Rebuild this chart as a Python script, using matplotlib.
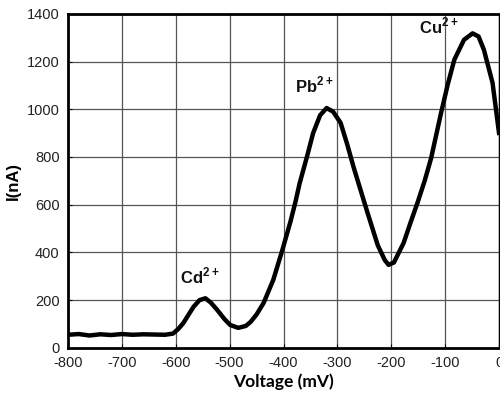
import matplotlib
matplotlib.use("Agg")
import matplotlib.pyplot as plt

plt.rcParams['font.family'] = ['Liberation Sans', 'DejaVu Sans']
plt.rcParams['mathtext.fontset'] = 'custom'
plt.rcParams['mathtext.rm'] = 'Liberation Sans'
plt.rcParams['mathtext.bf'] = 'Liberation Sans:bold'
plt.rcParams['axes.unicode_minus'] = False

# stripping voltammogram
voltage = [-800, -780, -760, -740, -720, -700, -680, -660, -640, -620, -605,
           -595, -586, -576, -567, -556, -545, -535, -523, -510, -499, -484,
           -470, -461, -450, -437, -419, -402, -387, -378, -370, -356, -345,
           -332, -320, -308, -294, -282, -270, -257, -244, -225, -212, -205,
           -195, -177, -165, -151, -138, -126, -108, -95, -83, -65, -49,
           -38, -28, -12, 0]
current = [55, 58, 52, 57, 54, 58, 55, 57, 56, 55, 60,
           80, 104, 140, 172, 200, 208, 190, 159, 122, 96, 84,
           92, 109, 140, 188, 285, 411, 530, 610, 690, 805, 900,
           975, 1005, 990, 943, 855, 758, 662, 566, 430, 368, 348,
           358, 440, 520, 610, 700, 795, 980, 1105, 1207, 1291, 1318,
           1305, 1249, 1111, 901]

peak_names = [r'$\mathbf{Cd}^{\mathbf{2+}}$', r'$\mathbf{Pb}^{\mathbf{2+}}$',
              r'$\mathbf{Cu}^{\mathbf{2+}}$']
peak_x = [-555, -343, -112]
peak_y = [300, 1102, 1348]

fig = plt.figure(figsize=(5, 3.94), dpi=100)
ax = fig.add_axes([0.136, 0.117, 0.862, 0.848])

ax.plot(voltage, current, color='black', lw=3.2, solid_joinstyle='round')

for name, x, y in zip(peak_names, peak_x, peak_y):
    ax.text(x, y, name, fontsize=12, ha='center', va='center', color='#111')

ax.set_xlim(-800, 0)
ax.set_ylim(0, 1400)
ax.set_xticks(range(-800, 1, 100))
ax.set_yticks(range(0, 1401, 200))
ax.grid(True, color='#555', lw=0.9)
ax.set_axisbelow(True)
ax.tick_params(direction='in', length=3, labelsize=10.5, labelcolor='#222',
               pad=6)
for side in ['top', 'left', 'bottom']:
    ax.spines[side].set_linewidth(2)
ax.spines['right'].set_linewidth(1)

ax.set_xlabel('Voltage (mV)', fontsize=12.5, fontweight='bold',
              family=['Lato', 'DejaVu Sans'], labelpad=2)
ax.set_ylabel('I(nA)', fontsize=12, fontweight='bold', labelpad=4)

fig.savefig('out.png', dpi=100)
